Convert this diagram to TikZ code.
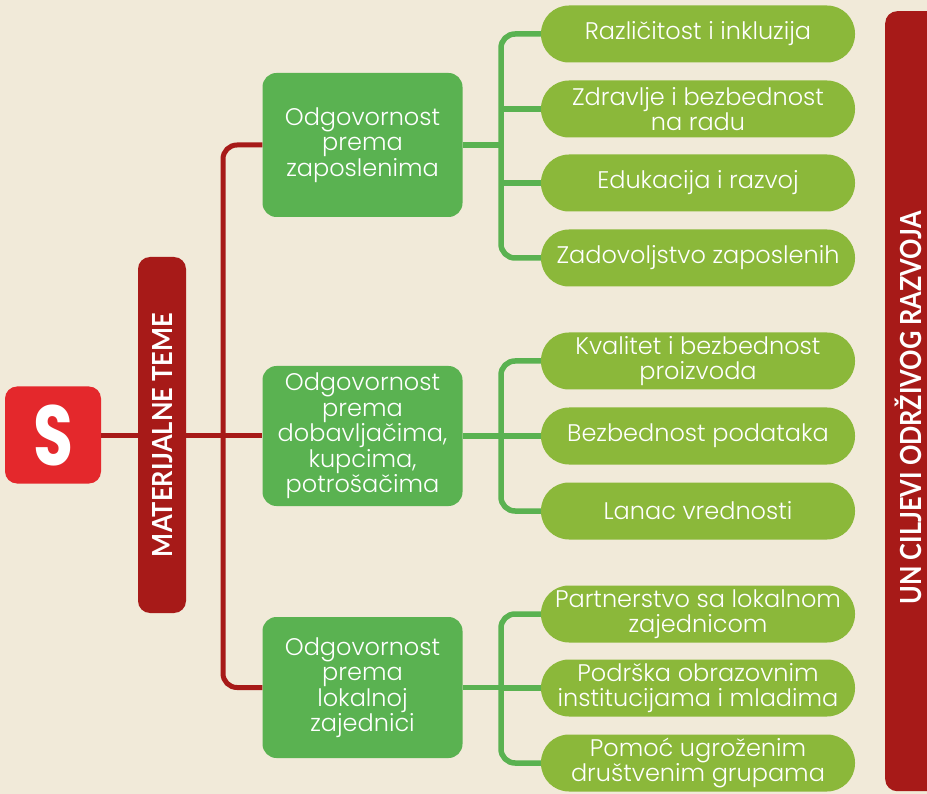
\documentclass[tikz,border=0pt]{standalone}
\usepackage{fontspec}
\usepackage{graphicx}
\IfFontExistsTF{Poppins Light}{\setmainfont{Poppins Light}}{\setmainfont{Poppins}}
\newfontfamily\labfont{Lato}
\newfontfamily\sfont{Poppins}
\definecolor{bg}{HTML}{F1EAD9}
\definecolor{sred}{HTML}{E4282C}
\definecolor{darkred}{HTML}{A71A18}
\definecolor{primgreen}{HTML}{5AB251}
\definecolor{leafgreen}{HTML}{8BB83A}
\newsavebox\fitbox
\newlength\fitcap
\newlength\fitwd
\newcommand\fitcaps[4]{{#1\sbox\fitbox{#4}\fitcap=\fontcharht\font`H\relax\fitwd=\wd\fitbox\relax
 \pgfmathsetmacro\fitx{#2/\fitwd}\pgfmathsetmacro\fity{#3/\fitcap}%
 \scalebox{\fitx}[\fity]{\usebox\fitbox}}}
\begin{document}
\begin{tikzpicture}[x=1pt,y=-1pt,
 leaf/.style={fill=leafgreen, rounded corners=28pt, minimum width=314pt, minimum height=57pt,
   text=white, align=center, font=\fontsize{24}{25}\selectfont, inner sep=0pt},
 prim/.style={fill=primgreen, rounded corners=14pt, minimum width=200pt,
   text=white, align=center, font=\fontsize{24}{25.5}\selectfont, inner sep=0pt},
 redln/.style={draw=darkred, line width=5pt},
 grnln/.style={draw=primgreen, line width=5.5pt},
 vlab/.style={rotate=90, anchor=base, text=white, inner sep=0pt}
]
\clip (0,0) rectangle (927,794);
\useasboundingbox (0,0) rectangle (927,794);
\fill[bg] (0,0) rectangle (927,794);

% left part
\node[fill=sred, rounded corners=12pt, minimum width=96pt, minimum height=97pt, inner sep=0pt, text=white] (s) at (53,435)
  {\fitcaps{\sfont\bfseries\fontsize{80}{80}\selectfont}{40pt}{60pt}{S}};
\node[fill=darkred, rounded corners=12pt, minimum width=48pt, minimum height=356pt, inner sep=0pt] (mat) at (162,435) {};
\node[vlab] (matlab) at (172,435) {\fitcaps{\labfont\bfseries\fontsize{28}{28}\selectfont}{244pt}{20pt}{MATERIJALNE TEME}};

% primary boxes
\node[prim, minimum height=144pt] (p1) at (362.5,145) {Odgovornost\\prema\\zaposlenima};
\node[prim, minimum height=140pt] (p2) at (362.5,436) {Odgovornost\\prema\\dobavljačima,\\kupcima,\\potrošačima};
\node[prim, minimum height=141pt] (p3) at (362.5,687.5) {Odgovornost\\prema\\lokalnoj\\zajednici};

% leaves
\node[leaf] (l1) at (698,34) {Različitost i inkluzija};
\node[leaf] (l2) at (698,109) {Zdravlje i bezbednost\\na radu};
\node[leaf] (l3) at (698,183) {Edukacija i razvoj};
\node[leaf] (l4) at (698,258) {Zadovoljstvo zaposlenih};
\node[leaf] (l5) at (698,361) {Kvalitet i bezbednost\\proizvoda};
\node[leaf] (l6) at (698,436) {Bezbednost podataka};
\node[leaf] (l7) at (698,511) {Lanac vrednosti};
\node[leaf] (l8) at (698,614) {Partnerstvo sa lokalnom\\zajednicom};
\node[leaf] (l9) at (698,688) {Podrška obrazovnim\\institucijama i mladima};
\node[leaf] (l10) at (698,763) {Pomoć ugroženim\\društvenim grupama};

% right banner
\node[fill=darkred, rounded corners=12pt, minimum width=70pt, minimum height=780pt, inner sep=0pt, anchor=north west] (ban) at (885,11) {};
\node[vlab] (banlab) at (921,408) {\fitcaps{\labfont\bfseries\fontsize{28}{28}\selectfont}{393pt}{21pt}{UN CILJEVI ODRŽIVOG RAZVOJA}};

% red connectors
\coordinate (rs) at (223,435);
\draw[redln] (s.east) -- (mat.west);
\draw[redln] (mat.east) -- (p2.west |- mat.east);
\draw[redln, rounded corners=14pt] (p1.west) -| (rs) |- (p3.west);

% green connectors
\coordinate (g1) at (501,145);
\coordinate (g2) at (501,436);
\coordinate (g3) at (501,687.5);
\draw[grnln] (p1.east) -- (g1);
\draw[grnln, rounded corners=14pt] (l1.west) -| (g1) |- (l4.west);
\draw[grnln] (g1 |- l2.west) -- (l2.west);
\draw[grnln] (g1 |- l3.west) -- (l3.west);
\draw[grnln] (p2.east) -- (l6.west);
\draw[grnln, rounded corners=14pt] (l5.west) -| (g2) |- (l7.west);
\draw[grnln] (p3.east) -- (g3);
\draw[grnln, rounded corners=14pt] (l8.west) -| (g3) |- (l10.west);
\draw[grnln] (g3 |- l9.west) -- (l9.west);
\end{tikzpicture}
\end{document}
